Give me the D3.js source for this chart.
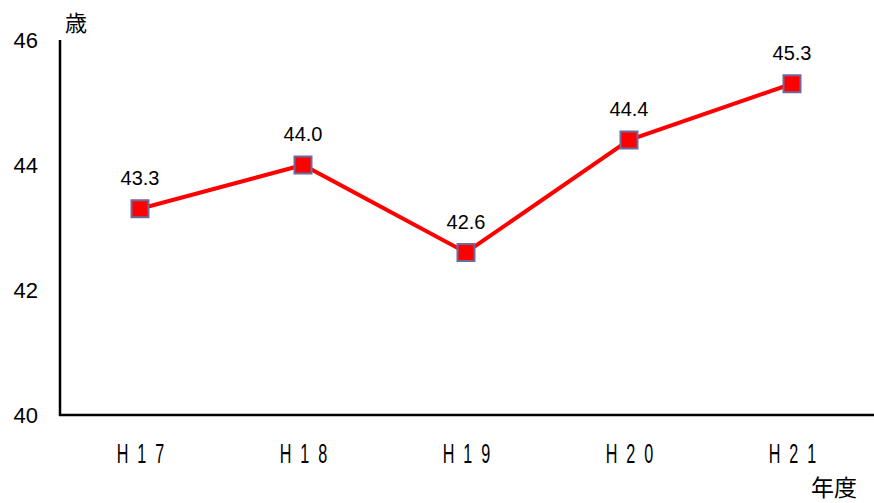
<!DOCTYPE html>
<html>
<head>
<meta charset="utf-8">
<script src="https://cdn.jsdelivr.net/npm/d3@7"></script>
<style>
  body { margin: 0; background: #fff; }
</style>
</head>
<body>
<svg id="chart" width="874" height="503"></svg>
<script>
// data
const years = ["H17", "H18", "H19", "H20", "H21"];
const ages = [43.3, 44.0, 42.6, 44.4, 45.3];
const yTicks = [40, 42, 44, 46];

const svg = d3.select("#chart");

const x = d3.scalePoint()
    .domain(years)
    .range([140, 792]);

const y = d3.scaleLinear()
    .domain([40, 46])
    .range([415, 40]);

// axes (drawn as plain lines, no tick marks)
svg.append("line")
    .attr("x1", 60).attr("x2", 60)
    .attr("y1", y(46)).attr("y2", y(40) + 1)
    .attr("stroke", "#000").attr("stroke-width", 2.5);
svg.append("line")
    .attr("x1", 59).attr("x2", 874)
    .attr("y1", y(40)).attr("y2", y(40))
    .attr("stroke", "#000").attr("stroke-width", 2.5);

// y tick labels
svg.selectAll(".ytick")
    .data(yTicks)
    .join("text")
    .attr("class", "ytick")
    .attr("x", 38)
    .attr("y", d => y(d) + 2)
    .attr("text-anchor", "end")
    .attr("dominant-baseline", "middle")
    .style("font-family", "Liberation Sans, Arial, sans-serif")
    .style("font-size", "22px")
    .text(d => d);

// x category labels (narrow, spaced out)
svg.selectAll(".xtick")
    .data(years)
    .join("text")
    .attr("class", "xtick")
    .attr("transform", d => `translate(${x(d) + 5},463) scale(0.6,1)`)
    .attr("text-anchor", "middle")
    .style("font-family", "Liberation Sans, sans-serif")
    .style("font-size", "27px")
    .style("letter-spacing", "15px")
    .text(d => d);

// unit labels
svg.append("text")
    .attr("x", 65).attr("y", 31)
    .style("font-family", "Noto Sans CJK JP, sans-serif")
    .style("font-size", "22px")
    .text("歳");
svg.append("text")
    .attr("x", 811).attr("y", 496)
    .style("font-family", "Noto Sans CJK JP, sans-serif")
    .style("font-size", "23px")
    .text("年度");

// line
const line = d3.line()
    .x((d, i) => x(years[i]))
    .y(d => y(d));

svg.append("path")
    .datum(ages)
    .attr("d", line)
    .attr("fill", "none")
    .attr("stroke", "#ff0000")
    .attr("stroke-width", 4);

// markers
svg.selectAll(".marker")
    .data(ages)
    .join("rect")
    .attr("class", "marker")
    .attr("x", (d, i) => x(years[i]) - 8.5)
    .attr("y", d => y(d) - 8.5)
    .attr("width", 17)
    .attr("height", 17)
    .attr("fill", "#ff0000")
    .attr("stroke", "#6b6b9e")
    .attr("stroke-width", 2);

// data labels
svg.selectAll(".dlabel")
    .data(ages)
    .join("text")
    .attr("class", "dlabel")
    .attr("x", (d, i) => x(years[i]))
    .attr("y", d => y(d) - 24)
    .attr("text-anchor", "middle")
    .style("font-family", "Liberation Sans, Arial, sans-serif")
    .style("font-size", "20px")
    .text(d => d.toFixed(1));
</script>
</body>
</html>
